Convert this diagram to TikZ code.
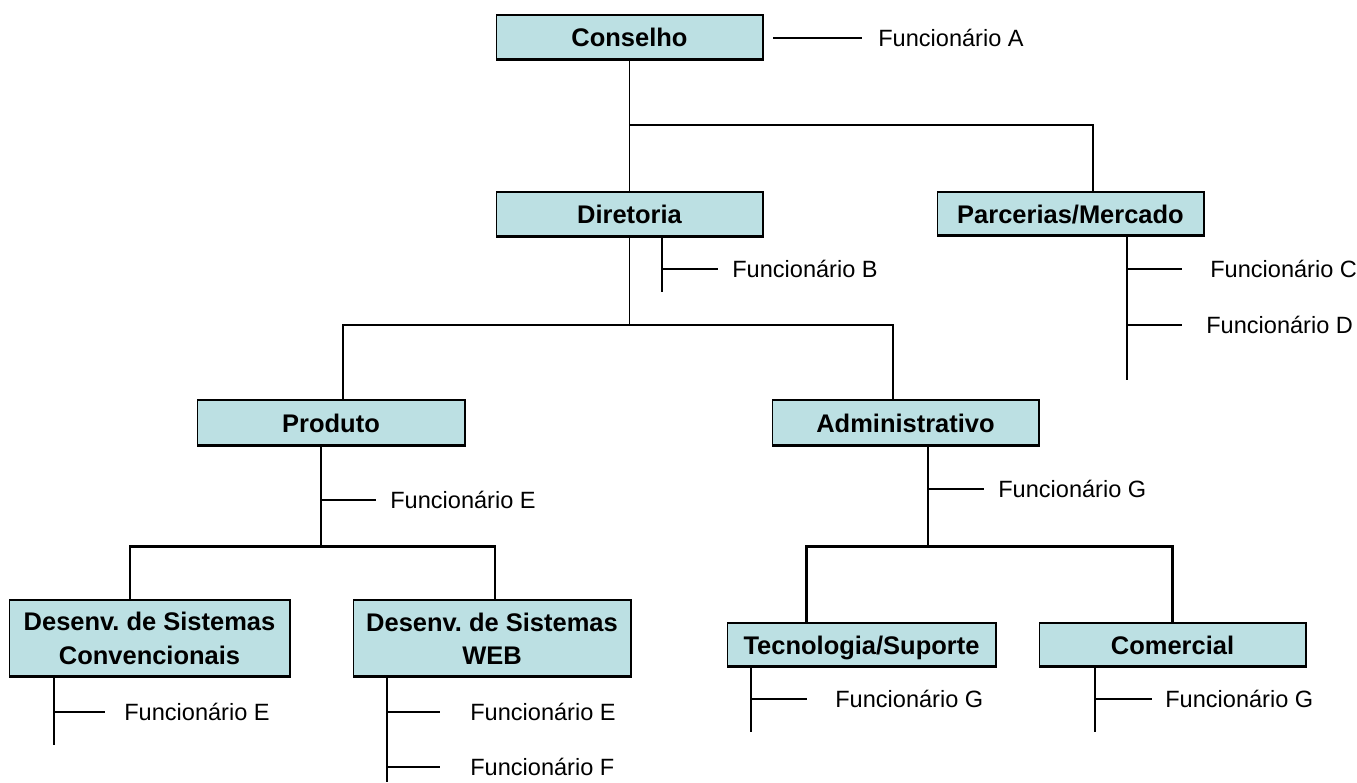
\documentclass[tikz,border=0pt]{standalone}
\usepackage{fontspec}
\setmainfont{Liberation Sans}
\usepackage{xcolor}
\usepackage{tikz}
\usetikzlibrary{positioning}

\definecolor{boxcyan}{RGB}{188,224,227}

\begin{document}
\begin{tikzpicture}[x=0.02cm, y=-0.02cm,
			box/.style={draw, line width=0.6pt, fill=boxcyan, rectangle, inner sep=0pt,
				minimum width=5.34cm, minimum height=0.9cm, align=center,
				text height=11.4pt, text depth=1pt,
				font=\bfseries\fontsize{14.5}{19}\selectfont,
				path picture={\draw[line width=2pt] (path picture bounding box.south west) -- (path picture bounding box.south east);}},
			twoline/.style={text height={}, text depth={}, minimum height=1.54cm},
			link/.style={line width=1.1pt},
			thicklink/.style={line width=1.7pt},
			staff/.style={anchor=west, inner sep=0pt, font=\fontsize{13.4}{15}\selectfont}]
			
			\useasboundingbox (0,0) rectangle (1357,782);
			
			% boxes
			\node[box] (cons) at (629.5,37.5) {Conselho};
			\node[box] (dir) at (629.5,214.5) {Diretoria};
			\node[box, minimum height=0.88cm] (parc) at (1070.5,214) {Parcerias/Mercado};
			\node[box, minimum width=5.36cm, minimum height=0.92cm] (prod) at (331,423) {Produto};
			\node[box, minimum height=0.92cm] (adm) at (905.5,423) {Administrativo};
			\node[box, twoline, minimum width=5.62cm] (conv) at (149.5,638.5) {Desenv.\ de Sistemas\\Convencionais};
			\node[box, twoline, minimum width=5.56cm] (web) at (492,638.5) {Desenv.\ de Sistemas\\WEB};
			\node[box, minimum width=5.38cm, minimum height=0.88cm] (tec) at (861.5,645) {Tecnologia/Suporte};
			\node[box, minimum height=0.88cm] (com) at (1172.5,645) {Comercial};
			
			% staff labels
			\node[staff] (fA) at (878,38) {Funcionário A};
			\node[staff] (fB) at (732,269) {Funcionário B};
			\node[staff] (fC) at (1210,269) {Funcionário C};
			\node[staff] (fD) at (1206,325) {Funcionário D};
			\node[staff] (fE1) at (390,500) {Funcionário E};
			\node[staff] (fG1) at (998,489) {Funcionário G};
			\node[staff] (fE2) at (124,712) {Funcionário E};
			\node[staff] (fE3) at (470,712) {Funcionário E};
			\node[staff] (fF) at (470,767) {Funcionário F};
			\node[staff] (fG2) at (835,699) {Funcionário G};
			\node[staff] (fG3) at (1165,699) {Funcionário G};
			
			% junctions and line ends
			\coordinate (j1) at (629.5,125);
			\coordinate (j2) at (629.5,325);
			\coordinate (j3) at (321,546);
			\coordinate (j4) at (928,546);
			\coordinate (sB) at (662,292);
			\coordinate (sC) at (1127,380);
			\coordinate (sE2) at (54,745);
			\coordinate (sE3) at (387,782);
			\coordinate (sG2) at (751,732);
			\coordinate (sG3) at (1095,732);
			\coordinate (tA0) at (773,38);
			\coordinate (tA) at (862,38);
			\coordinate (tB) at (718,269);
			\coordinate (tC) at (1182,269);
			\coordinate (tD) at (1182,325);
			\coordinate (tE1) at (376,500);
			\coordinate (tG1) at (984,489);
			\coordinate (tE2) at (105,712);
			\coordinate (tE3) at (440,712);
			\coordinate (tF) at (440,767);
			\coordinate (tG2) at (807,699);
			\coordinate (tG3) at (1152,699);
			
			% tree
			\draw[link] (cons) -- (dir);
			\draw[link] (j1) -| ([xshift=0.45cm]parc.north);
			\draw[link] (dir) -- (j2);
			\draw[link] ([xshift=0.24cm]prod.north) |- (j2) -| ([xshift=-0.25cm]adm.north);
			\draw[link] (prod.south -| j3) -- (j3);
			\draw[thicklink] ([xshift=-0.39cm]conv.north) |- (j3) -| ([xshift=0.06cm]web.north);
			\draw[link] (adm.south -| j4) -- (j4);
			\draw[thicklink] ([xshift=-1.11cm]tec.north) |- (j4) -| (com.north);
			
			% staff stems
			\draw[link] (tA0) -- (tA);
			\draw[link] (dir.south -| sB) -- (sB);
			\draw[link] (sB |- tB) -- (tB);
			\draw[link] (parc.south -| sC) -- (sC);
			\draw[link] (sC |- tC) -- (tC);
			\draw[link] (sC |- tD) -- (tD);
			\draw[link] (j3 |- tE1) -- (tE1);
			\draw[link] (j4 |- tG1) -- (tG1);
			\draw[link] (conv.south -| sE2) -- (sE2);
			\draw[link] (sE2 |- tE2) -- (tE2);
			\draw[link] (web.south -| sE3) -- (sE3);
			\draw[link] (sE3 |- tE3) -- (tE3);
			\draw[link] (sE3 |- tF) -- (tF);
			\draw[link] (tec.south -| sG2) -- (sG2);
			\draw[link] (sG2 |- tG2) -- (tG2);
			\draw[link] (com.south -| sG3) -- (sG3);
			\draw[link] (sG3 |- tG3) -- (tG3);
			
		\end{tikzpicture}
\end{document}
